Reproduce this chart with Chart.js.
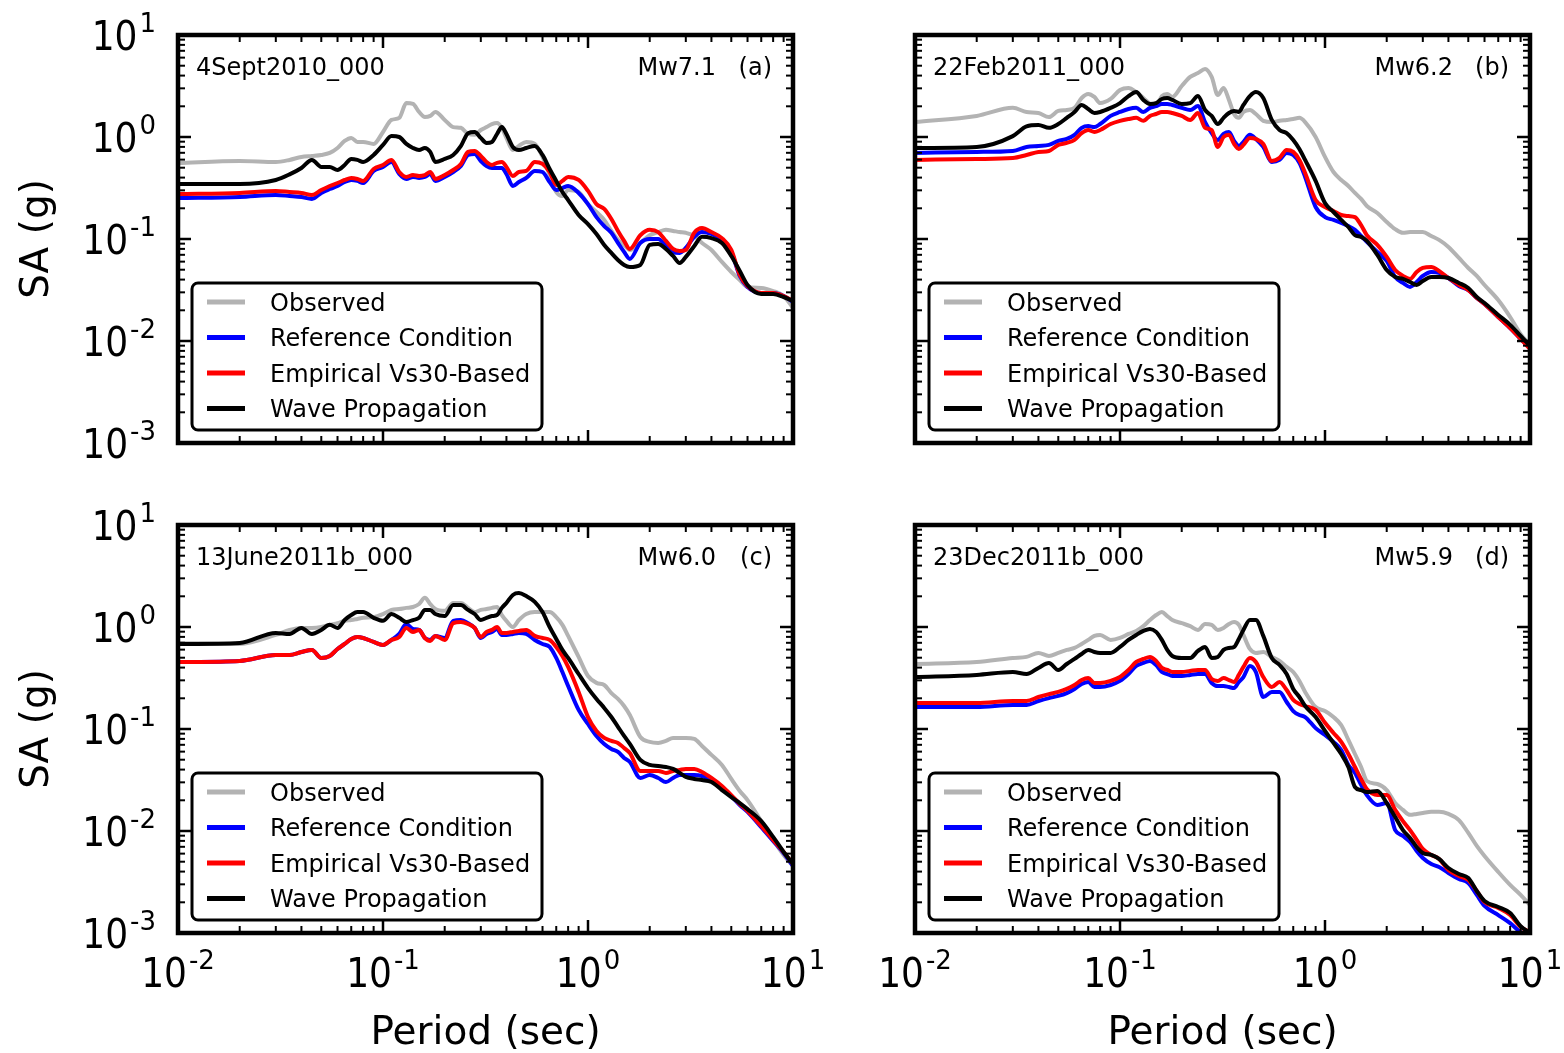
<!DOCTYPE html>
<html>
<head>
<meta charset="utf-8">
<title>Response spectra – four events</title>
<script src="https://cdn.jsdelivr.net/npm/chart.js@4.4.1/dist/chart.umd.min.js"></script>
<style>
  html, body { margin: 0; padding: 0; background: #ffffff; }
  #wrap { position: relative; width: 1564px; height: 1053px; overflow: hidden; background: #ffffff; }
  #wrap canvas { position: absolute; left: 0; top: 0; }
</style>
</head>
<body>
<div id="wrap">
  <canvas id="pa" width="1564" height="1053"></canvas>
  <canvas id="pb" width="1564" height="1053"></canvas>
  <canvas id="pc" width="1564" height="1053"></canvas>
  <canvas id="pd" width="1564" height="1053"></canvas>
</div>
<script>
// ---- data -------------------------------------------------------------
const periods = [0.01, 0.02, 0.03, 0.035, 0.04, 0.045, 0.05, 0.055, 0.06, 0.065,
  0.07, 0.075, 0.08, 0.09, 0.1, 0.11, 0.12, 0.13, 0.14, 0.15,
  0.16, 0.17, 0.18, 0.2, 0.22, 0.24, 0.26, 0.28, 0.3, 0.32,
  0.34, 0.36, 0.38, 0.4, 0.43, 0.46, 0.5, 0.55, 0.6, 0.65,
  0.7, 0.75, 0.8, 0.9, 1.0, 1.1, 1.2, 1.3, 1.4, 1.5,
  1.6, 1.8, 2.0, 2.2, 2.4, 2.6, 2.8, 3.0, 3.3, 3.6,
  4.0, 4.5, 5.0, 5.5, 6.0, 7.0, 8.0, 9.0, 10];

// (a) 4 Sept 2010
const obsA = [0.557, 0.582, 0.569, 0.596, 0.638, 0.652, 0.667, 0.698, 0.781, 0.915,
  0.980, 0.895, 0.895, 0.855, 1.12, 1.47, 1.54, 2.15, 2.11, 1.76,
  1.57, 1.61, 1.76, 1.47, 1.25, 1.23, 1.07, 1.05, 1.17, 1.25,
  1.34, 1.37, 1.23, 0.980, 0.747, 0.818, 0.895, 0.855, 0.638, 0.424,
  0.289, 0.264, 0.302, 0.289, 0.220, 0.184, 0.154, 0.120, 0.0980, 0.0875,
  0.0781, 0.0915, 0.109, 0.117, 0.123, 0.120, 0.117, 0.115, 0.107, 0.0915,
  0.0781, 0.0596, 0.0475, 0.0397, 0.0339, 0.0331, 0.0309, 0.0276, 0.0211];
const refA = [0.252, 0.258, 0.270, 0.264, 0.258, 0.247, 0.283, 0.309, 0.331, 0.362,
  0.379, 0.371, 0.354, 0.465, 0.509, 0.569, 0.434, 0.388, 0.406, 0.397,
  0.406, 0.434, 0.371, 0.406, 0.454, 0.520, 0.667, 0.683, 0.582, 0.520,
  0.497, 0.497, 0.497, 0.434, 0.331, 0.362, 0.397, 0.465, 0.454, 0.362,
  0.302, 0.316, 0.331, 0.283, 0.220, 0.164, 0.134, 0.115, 0.0915, 0.0747,
  0.0638, 0.0915, 0.100, 0.100, 0.0855, 0.0747, 0.0730, 0.0818, 0.105, 0.117,
  0.112, 0.0980, 0.0747, 0.0434, 0.0339, 0.0296, 0.0296, 0.0276, 0.0241];
const empA = [0.276, 0.283, 0.296, 0.289, 0.283, 0.270, 0.302, 0.331, 0.354, 0.379,
  0.397, 0.388, 0.371, 0.486, 0.532, 0.596, 0.454, 0.406, 0.424, 0.415,
  0.424, 0.454, 0.388, 0.424, 0.475, 0.544, 0.714, 0.730, 0.652, 0.569,
  0.532, 0.557, 0.569, 0.509, 0.415, 0.454, 0.465, 0.569, 0.544, 0.454,
  0.339, 0.371, 0.406, 0.379, 0.296, 0.220, 0.197, 0.157, 0.120, 0.0958,
  0.0799, 0.109, 0.123, 0.117, 0.0958, 0.0799, 0.0764, 0.0781, 0.115, 0.128,
  0.117, 0.102, 0.0781, 0.0444, 0.0346, 0.0296, 0.0296, 0.0276, 0.0247];
const waveA = [0.346, 0.346, 0.379, 0.430, 0.497, 0.596, 0.509, 0.509, 0.475, 0.532,
  0.609, 0.596, 0.569, 0.667, 0.836, 1.02, 1.00, 0.855, 0.781, 0.747,
  0.781, 0.714, 0.569, 0.609, 0.667, 0.818, 1.09, 1.12, 0.980, 0.875,
  0.895, 1.07, 1.25, 1.07, 0.799, 0.747, 0.781, 0.818, 0.667, 0.486,
  0.371, 0.289, 0.241, 0.172, 0.140, 0.112, 0.0875, 0.0730, 0.0623, 0.0557,
  0.0532, 0.0557, 0.0875, 0.0895, 0.0799, 0.0682, 0.0582, 0.0667, 0.0855, 0.105,
  0.102, 0.0915, 0.0682, 0.0486, 0.0354, 0.0289, 0.0289, 0.0270, 0.0247];

// (b) 22 Feb 2011
const obsB = [1.40, 1.61, 1.93, 1.76, 1.72, 1.57, 1.80, 1.84, 1.93, 2.41,
  2.64, 2.47, 2.15, 2.36, 2.89, 3.02, 2.76, 2.41, 2.11, 2.01,
  2.52, 2.64, 2.47, 3.16, 3.88, 4.24, 4.64, 3.88, 2.58, 3.02,
  2.31, 1.68, 1.54, 1.76, 1.84, 1.68, 1.44, 1.40, 1.44, 1.47,
  1.50, 1.54, 1.40, 1.00, 0.638, 0.454, 0.379, 0.331, 0.283, 0.247,
  0.211, 0.180, 0.147, 0.125, 0.115, 0.117, 0.117, 0.117, 0.107, 0.098,
  0.0836, 0.0652, 0.052, 0.0434, 0.0354, 0.0252, 0.0172, 0.0117, 0.00915];
const refB = [0.698, 0.714, 0.730, 0.799, 0.818, 0.836, 0.915, 0.957, 1.05, 1.23,
  1.28, 1.25, 1.34, 1.61, 1.76, 1.88, 1.93, 1.76, 1.93, 2.01,
  2.11, 2.11, 2.06, 1.93, 1.84, 2.01, 1.40, 1.09, 0.936, 1.07,
  1.12, 0.915, 0.818, 0.895, 1.05, 0.958, 0.799, 0.569, 0.596, 0.698,
  0.667, 0.557, 0.406, 0.206, 0.164, 0.154, 0.144, 0.134, 0.123, 0.107,
  0.0936, 0.0747, 0.0609, 0.0424, 0.0371, 0.0339, 0.0379, 0.0434, 0.0475, 0.0465,
  0.0415, 0.0346, 0.0316, 0.0264, 0.0231, 0.0172, 0.0134, 0.0105, 0.00855];
const empB = [0.596, 0.609, 0.623, 0.667, 0.714, 0.730, 0.836, 0.875, 0.936, 1.09,
  1.17, 1.12, 1.17, 1.34, 1.44, 1.50, 1.54, 1.44, 1.61, 1.68,
  1.76, 1.76, 1.72, 1.61, 1.47, 1.72, 1.23, 1.17, 0.799, 1.00,
  1.05, 0.855, 0.764, 0.836, 0.980, 0.958, 0.855, 0.582, 0.623, 0.747,
  0.714, 0.596, 0.444, 0.241, 0.206, 0.188, 0.172, 0.168, 0.164, 0.137,
  0.109, 0.0875, 0.0667, 0.0497, 0.0434, 0.0406, 0.0475, 0.0520, 0.0532, 0.0486,
  0.0415, 0.0354, 0.0316, 0.0264, 0.0231, 0.0172, 0.0134, 0.0105, 0.00836];
const waveB = [0.781, 0.799, 1.02, 1.27, 1.31, 1.23, 1.34, 1.54, 1.76, 2.06,
  1.88, 1.72, 1.76, 1.93, 2.15, 2.52, 2.76, 2.31, 2.11, 2.15,
  2.36, 2.41, 2.31, 2.11, 2.15, 2.52, 1.84, 1.61, 1.34, 1.54,
  1.72, 1.80, 1.76, 2.06, 2.52, 2.76, 2.41, 1.47, 1.17, 1.09,
  0.936, 0.764, 0.596, 0.371, 0.225, 0.184, 0.154, 0.131, 0.109, 0.105,
  0.0958, 0.0698, 0.0497, 0.0424, 0.0406, 0.0379, 0.0354, 0.0388, 0.0424, 0.0424,
  0.0415, 0.0371, 0.0331, 0.0270, 0.0236, 0.0180, 0.0144, 0.0112, 0.00895];

// (c) 13 June 2011b
const obsC = [0.698, 0.682, 0.836, 0.936, 0.980, 0.980, 1.00, 1.05, 1.09, 1.15,
  1.17, 1.20, 1.23, 1.25, 1.34, 1.47, 1.50, 1.54, 1.57, 1.68,
  1.93, 1.68, 1.50, 1.44, 1.72, 1.72, 1.54, 1.40, 1.47, 1.50,
  1.54, 1.57, 1.31, 1.15, 1.00, 1.17, 1.34, 1.40, 1.40, 1.40,
  1.25, 1.05, 0.818, 0.509, 0.331, 0.283, 0.270, 0.225, 0.197, 0.168,
  0.137, 0.0836, 0.0747, 0.0730, 0.0764, 0.0818, 0.0818, 0.0818, 0.0799, 0.0682,
  0.0557, 0.0444, 0.0324, 0.0247, 0.0201, 0.0125, 0.00818, 0.00582, 0.00454];
const refC = [0.454, 0.465, 0.532, 0.532, 0.569, 0.596, 0.497, 0.520, 0.609, 0.682,
  0.764, 0.799, 0.781, 0.714, 0.667, 0.747, 0.855, 1.07, 0.957, 0.936,
  0.781, 0.747, 0.818, 0.781, 1.15, 1.17, 1.09, 0.980, 0.781, 0.855,
  0.895, 0.957, 0.836, 0.836, 0.855, 0.875, 0.855, 0.747, 0.682, 0.638,
  0.497, 0.362, 0.264, 0.154, 0.112, 0.0855, 0.0714, 0.0638, 0.0596, 0.0520,
  0.0475, 0.0331, 0.0354, 0.0331, 0.0302, 0.0331, 0.0354, 0.0354, 0.0354, 0.0346,
  0.0316, 0.0270, 0.0220, 0.0180, 0.0154, 0.0109, 0.00799, 0.00609, 0.00454];
const empC = [0.454, 0.465, 0.532, 0.532, 0.569, 0.596, 0.497, 0.520, 0.609, 0.682,
  0.764, 0.799, 0.781, 0.714, 0.667, 0.747, 0.799, 0.980, 0.895, 0.936,
  0.781, 0.730, 0.818, 0.747, 1.09, 1.12, 1.07, 0.980, 0.799, 0.895,
  0.936, 1.00, 0.875, 0.875, 0.895, 0.915, 0.936, 0.818, 0.781, 0.747,
  0.638, 0.520, 0.406, 0.231, 0.131, 0.0958, 0.0818, 0.0764, 0.0730, 0.0652,
  0.0582, 0.0388, 0.0388, 0.0388, 0.0371, 0.0388, 0.0397, 0.0406, 0.0406, 0.0379,
  0.0331, 0.0276, 0.0225, 0.0184, 0.0157, 0.0112, 0.00818, 0.00623, 0.00475];
const waveC = [0.682, 0.698, 0.875, 0.855, 0.980, 0.855, 0.936, 1.05, 0.980, 1.17,
  1.31, 1.40, 1.40, 1.23, 1.15, 1.34, 1.23, 1.12, 1.17, 1.23,
  1.47, 1.47, 1.34, 1.28, 1.64, 1.64, 1.47, 1.34, 1.17, 1.23,
  1.28, 1.31, 1.54, 1.72, 2.06, 2.15, 2.01, 1.76, 1.40, 1.00,
  0.764, 0.596, 0.497, 0.346, 0.252, 0.197, 0.161, 0.131, 0.105, 0.0855,
  0.0714, 0.0497, 0.0444, 0.0434, 0.0424, 0.0406, 0.0371, 0.0339, 0.0324, 0.0316,
  0.0302, 0.0252, 0.0215, 0.0188, 0.0164, 0.0125, 0.00875, 0.00623, 0.00475];

// (d) 23 Dec 2011b
const obsD = [0.434, 0.454, 0.497, 0.509, 0.557, 0.520, 0.557, 0.596, 0.623, 0.682,
  0.747, 0.818, 0.836, 0.747, 0.781, 0.855, 0.915, 1.02, 1.17, 1.31,
  1.40, 1.28, 1.17, 1.09, 1.02, 0.936, 1.07, 1.05, 0.936, 0.980,
  1.07, 1.12, 1.05, 0.836, 0.609, 0.557, 0.569, 0.509, 0.465, 0.406,
  0.362, 0.296, 0.231, 0.164, 0.150, 0.131, 0.109, 0.0781, 0.0569, 0.0424,
  0.0309, 0.0289, 0.0252, 0.0188, 0.0161, 0.0144, 0.0147, 0.0150, 0.0154, 0.0154,
  0.0147, 0.0128, 0.00958, 0.00714, 0.00569, 0.00397, 0.00296, 0.00236, 0.00188];
const refD = [0.164, 0.164, 0.172, 0.172, 0.188, 0.201, 0.211, 0.225, 0.247, 0.276,
  0.289, 0.258, 0.258, 0.270, 0.296, 0.346, 0.415, 0.444, 0.465, 0.424,
  0.362, 0.346, 0.331, 0.331, 0.339, 0.346, 0.346, 0.283, 0.264, 0.264,
  0.258, 0.252, 0.289, 0.323, 0.415, 0.362, 0.206, 0.231, 0.231, 0.184,
  0.150, 0.137, 0.131, 0.102, 0.0875, 0.0747, 0.0623, 0.0444, 0.0371, 0.0283,
  0.0225, 0.0180, 0.0188, 0.0102, 0.00895, 0.00781, 0.00638, 0.00544, 0.00475, 0.00444,
  0.00388, 0.00339, 0.00309, 0.00236, 0.00184, 0.00150, 0.00125, 0.00102, 0.00092];
const empD = [0.180, 0.180, 0.188, 0.188, 0.206, 0.220, 0.231, 0.247, 0.270, 0.302,
  0.316, 0.283, 0.283, 0.296, 0.323, 0.379, 0.454, 0.486, 0.509, 0.465,
  0.397, 0.379, 0.362, 0.362, 0.371, 0.379, 0.379, 0.309, 0.296, 0.316,
  0.302, 0.289, 0.339, 0.406, 0.497, 0.454, 0.323, 0.258, 0.289, 0.241,
  0.193, 0.176, 0.168, 0.154, 0.115, 0.0915, 0.0747, 0.0569, 0.0424, 0.0324,
  0.0258, 0.0225, 0.0225, 0.0161, 0.0125, 0.0102, 0.00818, 0.00667, 0.00582, 0.00532,
  0.00415, 0.00362, 0.00331, 0.00258, 0.00201, 0.00176, 0.00150, 0.00115, 0.00102];
const waveD = [0.323, 0.339, 0.362, 0.346, 0.397, 0.444, 0.379, 0.434, 0.486, 0.544,
  0.596, 0.569, 0.557, 0.557, 0.638, 0.747, 0.836, 0.915, 0.957, 0.895,
  0.747, 0.596, 0.520, 0.497, 0.497, 0.582, 0.638, 0.497, 0.509, 0.596,
  0.623, 0.638, 0.764, 0.936, 1.17, 1.17, 0.818, 0.497, 0.424, 0.346,
  0.247, 0.206, 0.168, 0.131, 0.0958, 0.0730, 0.0569, 0.0424, 0.0270, 0.0252,
  0.0241, 0.0247, 0.0188, 0.0137, 0.0102, 0.00855, 0.00698, 0.00609, 0.00582, 0.00532,
  0.00434, 0.00379, 0.00346, 0.00258, 0.00206, 0.00180, 0.00157, 0.00117, 0.00100];

const seriesNames = ['Observed', 'Reference Condition', 'Empirical Vs30-Based', 'Wave Propagation'];
const seriesColors = ['#b3b3b3', '#0000ff', '#ff0000', '#000000'];
const eventNames = ['4Sept2010_000', '22Feb2011_000', '13June2011b_000', '23Dec2011b_000'];
const magnitudes = ['Mw7.1', 'Mw6.2', 'Mw6.0', 'Mw5.9'];
const panelLetters = ['(a)', '(b)', '(c)', '(d)'];
const xTickExponents = [-2, -1, 0, 1];
const yTickExponents = [-3, -2, -1, 0, 1];
const xAxisTitle = 'Period (sec)';
const yAxisTitle = 'SA (g)';

// ---- layout -----------------------------------------------------------
const W = 1564, H = 1053;
const FONT = '"DejaVu Sans", "Liberation Sans", sans-serif';
const panels = [
  { id: 'pa', series: [obsA, refA, empA, waveA], box: [178, 35, 793, 443], xLabels: false, yLabels: true },
  { id: 'pb', series: [obsB, refB, empB, waveB], box: [915, 35, 1530, 443], xLabels: false, yLabels: false },
  { id: 'pc', series: [obsC, refC, empC, waveC], box: [178, 525, 793, 933], xLabels: true, yLabels: true },
  { id: 'pd', series: [obsD, refD, empD, waveD], box: [915, 525, 1530, 933], xLabels: true, yLabels: false }
];

// "10" with a raised exponent; the base digits are drawn slightly tall
function powerLabel(ctx, exp, x, baseline, align) {
  const base = '10';
  const sup = exp < 0 ? '-' + (-exp) : String(exp);
  ctx.font = '36px ' + FONT;
  const wb = ctx.measureText(base).width;
  ctx.font = '26px ' + FONT;
  const ws = ctx.measureText(sup).width;
  const gap = 2;
  const total = wb + gap + ws;
  const x0 = align === 'right' ? x - total : x - total / 2;
  ctx.textAlign = 'left';
  ctx.textBaseline = 'alphabetic';
  ctx.save();
  ctx.translate(x0, baseline);
  ctx.scale(1, 1.13);
  ctx.font = '36px ' + FONT;
  ctx.fillText(base, 0, 0);
  ctx.restore();
  ctx.font = '26px ' + FONT;
  ctx.fillText(sup, x0 + wb + gap, baseline - 18.5);
}

function seg(ctx, x1, y1, x2, y2) {
  ctx.beginPath(); ctx.moveTo(x1, y1); ctx.lineTo(x2, y2); ctx.stroke();
}

// frame, inward ticks, tick labels, annotations and legend
const panelDecor = {
  id: 'panelDecor',
  afterDatasetsDraw(chart, args, opts) {
    const { ctx, chartArea: a } = chart;
    const xs = chart.scales.x, ys = chart.scales.y;
    ctx.save();

    // legend box
    const lx = a.left + 14, lw = 350, lh = 147, ly = a.bottom - 13 - lh;
    ctx.beginPath();
    ctx.roundRect(lx, ly, lw, lh, 6);
    ctx.fillStyle = '#ffffff';
    ctx.fill();
    ctx.lineWidth = 3;
    ctx.strokeStyle = '#000000';
    ctx.stroke();
    chart.data.datasets.forEach((ds, i) => {
      const cy = ly + 19 + i * 35.5;
      ctx.strokeStyle = ds.borderColor;
      ctx.lineWidth = 5;
      seg(ctx, lx + 15, cy, lx + 53, cy);
      ctx.fillStyle = '#000000';
      ctx.font = '24px ' + FONT;
      ctx.textAlign = 'left';
      ctx.textBaseline = 'alphabetic';
      ctx.fillText(ds.label, lx + 78, cy + 8.5);
    });

    // ticks (major and minor, all four sides, pointing inward)
    ctx.strokeStyle = '#000000';
    for (let e = -2; e <= 1; e++) {
      for (let m = 1; m <= 9; m++) {
        const v = m * Math.pow(10, e);
        if (v > 10.0001) break;
        const px = xs.getPixelForValue(v);
        const len = m === 1 ? 13 : 7;
        ctx.lineWidth = m === 1 ? 2.5 : 2;
        seg(ctx, px, a.bottom, px, a.bottom - len);
        seg(ctx, px, a.top, px, a.top + len);
      }
    }
    for (let e = -3; e <= 1; e++) {
      for (let m = 1; m <= 9; m++) {
        const v = m * Math.pow(10, e);
        if (v > 10.0001) break;
        const py = ys.getPixelForValue(v);
        const len = m === 1 ? 13 : 7;
        ctx.lineWidth = m === 1 ? 2.5 : 2;
        seg(ctx, a.left, py, a.left + len, py);
        seg(ctx, a.right, py, a.right - len, py);
      }
    }

    // frame
    ctx.lineWidth = 4.5;
    ctx.strokeStyle = '#000000';
    ctx.strokeRect(a.left, a.top, a.right - a.left, a.bottom - a.top);

    // annotations
    ctx.fillStyle = '#000000';
    ctx.font = '24px ' + FONT;
    ctx.textBaseline = 'alphabetic';
    ctx.textAlign = 'left';
    ctx.fillText(opts.event, a.left + 18, a.top + 40);
    ctx.textAlign = 'right';
    ctx.fillText(opts.magnitude, a.right - 77, a.top + 40);
    ctx.fillText(opts.letter, a.right - 21, a.top + 40);

    // tick labels and axis titles
    if (opts.yLabels) {
      yTickExponents.forEach(e => {
        const py = ys.getPixelForValue(Math.pow(10, e));
        powerLabel(ctx, e, a.left - 22, py + 15, 'right');
      });
      ctx.save();
      ctx.translate(48, (a.top + a.bottom) / 2);
      ctx.rotate(-Math.PI / 2);
      ctx.font = '39px ' + FONT;
      ctx.textAlign = 'center';
      ctx.textBaseline = 'alphabetic';
      ctx.fillText(yAxisTitle, 0, 0);
      ctx.restore();
    }
    if (opts.xLabels) {
      xTickExponents.forEach(e => {
        const px = xs.getPixelForValue(Math.pow(10, e));
        powerLabel(ctx, e, px, a.bottom + 54, 'center');
      });
      ctx.font = '39px ' + FONT;
      ctx.textAlign = 'center';
      ctx.textBaseline = 'alphabetic';
      ctx.fillText(xAxisTitle, (a.left + a.right) / 2, 1044);
    }
    ctx.restore();
  }
};

panels.forEach((p, idx) => {
  const [l, t, r, b] = p.box;
  new Chart(document.getElementById(p.id), {
    type: 'line',
    data: {
      datasets: p.series.map((vals, k) => ({
        label: seriesNames[k],
        data: periods.map((T, i) => ({ x: T, y: vals[i] })),
        borderColor: seriesColors[k],
        backgroundColor: seriesColors[k],
        borderWidth: 4,
        pointRadius: 0,
        fill: false,
        cubicInterpolationMode: 'monotone',
        borderJoinStyle: 'round',
        borderCapStyle: 'round',
        order: 3 - k
      }))
    },
    options: {
      responsive: false,
      animation: false,
      events: [],
      layout: { padding: { left: l, top: t, right: W - r, bottom: H - b } },
      scales: {
        x: { type: 'logarithmic', min: 0.01, max: 10, display: false },
        y: { type: 'logarithmic', min: 0.001, max: 10, display: false }
      },
      plugins: {
        legend: { display: false },
        tooltip: { enabled: false },
        panelDecor: {
          event: eventNames[idx],
          magnitude: magnitudes[idx],
          letter: panelLetters[idx],
          xLabels: p.xLabels,
          yLabels: p.yLabels
        }
      }
    },
    plugins: [panelDecor]
  });
});
</script>
</body>
</html>
